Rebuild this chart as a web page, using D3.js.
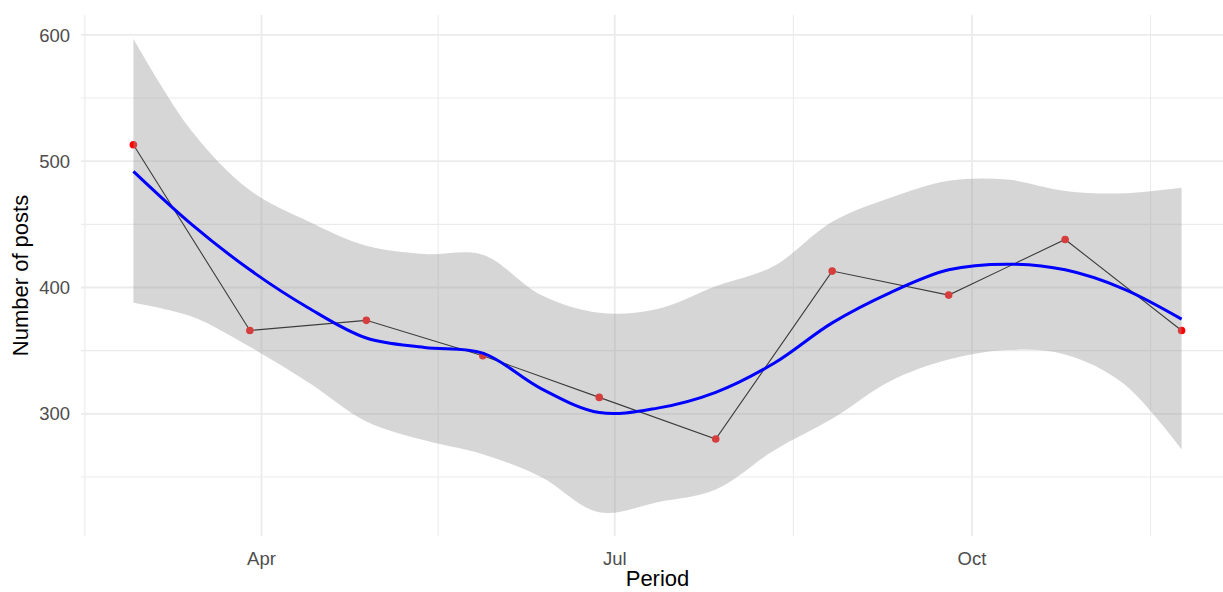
<!DOCTYPE html>
<html>
<head>
<meta charset="utf-8">
<script src="https://cdn.jsdelivr.net/npm/d3@7"></script>
<style>
  html, body { margin: 0; padding: 0; background: #fff; overflow: hidden; }
  svg { display: block; }
  text { font-family: "Liberation Sans", Arial, sans-serif; }
</style>
</head>
<body>
<div id="chart"></div>
<script>
// Observed counts
const pointDates = ['2020-02-28', '2020-03-29', '2020-04-28', '2020-05-28', '2020-06-27',
  '2020-07-27', '2020-08-26', '2020-09-25', '2020-10-25', '2020-11-24']
const pointValues = [513, 366, 374, 346, 313, 280, 413, 394, 438, 366]

// Loess smooth, with its confidence band
const smoothDates = ['2020-02-28', '2020-03-14', '2020-03-29', '2020-04-13', '2020-04-28',
  '2020-05-13', '2020-05-28', '2020-06-12', '2020-06-27', '2020-07-12', '2020-07-27',
  '2020-08-11', '2020-08-26', '2020-09-10', '2020-09-25', '2020-10-10', '2020-10-25',
  '2020-11-09', '2020-11-24']
const smoothFit = [492, 450, 414, 384, 360, 352.5, 348, 320, 301, 304.5, 317,
  340, 372, 396, 414, 418.5, 414, 399, 375]
const smoothUpper = [597, 524, 477, 452.5, 433, 426.5, 426, 394, 380, 383, 401,
  417, 452, 471, 484.5, 485.5, 476.5, 474.6, 479]
const smoothLower = [388, 377, 353, 325, 294, 279, 268, 250, 222, 230, 240,
  271, 296, 326, 343, 350.5, 347, 324, 272]

// Axis ticks
const xTickDates = ['2020-04-01', '2020-07-01', '2020-10-01']
const xTickLabels = ['Apr', 'Jul', 'Oct']
const xMinorDates = ['2020-02-15T12:00', '2020-05-16T12:00', '2020-08-16', '2020-11-16']
const yTicks = [300, 400, 500, 600]
const yMinorTicks = [250, 350, 450, 550]

const parseDate = (s) => new Date(s.length > 10 ? s + 'Z' : s + 'T00:00Z')

const points = pointDates.map((d, i) => ({ date: parseDate(d), value: pointValues[i] }))
const smooth = smoothDates.map((d, i) => ({
  date: parseDate(d), fit: smoothFit[i], upper: smoothUpper[i], lower: smoothLower[i]
}))

const width = 1223
const height = 592
const margin = { top: 15, left: 81, bottom: 56 }
const innerWidth = 1153
const innerHeight = height - margin.top - margin.bottom

const svg = d3.select('#chart')
  .append('svg')
  .attr('width', width)
  .attr('height', height)

// Scales in page coordinates, with ggplot's 5% expansion
const xExtent = d3.extent(points, d => d.date)
const xPad = (xExtent[1] - xExtent[0]) * 0.05
const x = d3.scaleUtc()
  .domain([new Date(+xExtent[0] - xPad), new Date(+xExtent[1] + xPad)])
  .range([margin.left, margin.left + innerWidth])

const yMin = d3.min(smoothLower)
const yMax = d3.max(smoothUpper)
const yPad = (yMax - yMin) * 0.05
const y = d3.scaleLinear()
  .domain([yMin - yPad, yMax + yPad])
  .range([margin.top + innerHeight, margin.top])

// Gridlines
const grid = svg.append('g').attr('class', 'grid')

grid.selectAll('.y-minor')
  .data(yMinorTicks)
  .enter().append('line')
  .attr('x1', margin.left).attr('x2', width)
  .attr('y1', d => y(d)).attr('y2', d => y(d))
  .attr('stroke', '#ebebeb').attr('stroke-width', 1.1)

grid.selectAll('.x-minor')
  .data(xMinorDates)
  .enter().append('line')
  .attr('x1', d => x(parseDate(d))).attr('x2', d => x(parseDate(d)))
  .attr('y1', margin.top).attr('y2', margin.top + innerHeight)
  .attr('stroke', '#ebebeb').attr('stroke-width', 1.1)

grid.selectAll('.y-major')
  .data(yTicks)
  .enter().append('line')
  .attr('x1', margin.left).attr('x2', width)
  .attr('y1', d => y(d)).attr('y2', d => y(d))
  .attr('stroke', '#ebebeb').attr('stroke-width', 1.8)

grid.selectAll('.x-major')
  .data(xTickDates)
  .enter().append('line')
  .attr('x1', d => x(parseDate(d))).attr('x2', d => x(parseDate(d)))
  .attr('y1', margin.top).attr('y2', margin.top + innerHeight)
  .attr('stroke', '#ebebeb').attr('stroke-width', 1.8)

// Tick labels
svg.selectAll('.y-label')
  .data(yTicks)
  .enter().append('text')
  .attr('x', margin.left - 11)
  .attr('y', d => y(d))
  .attr('dy', '0.36em')
  .attr('text-anchor', 'end')
  .attr('fill', '#4d4d4d')
  .attr('font-size', 18.5)
  .text(d => d)

svg.selectAll('.x-label')
  .data(xTickDates)
  .enter().append('text')
  .attr('x', d => x(parseDate(d)))
  .attr('y', 565)
  .attr('text-anchor', 'middle')
  .attr('fill', '#4d4d4d')
  .attr('font-size', 18.5)
  .text((d, i) => xTickLabels[i])

// Axis titles
svg.append('text')
  .attr('x', margin.left + innerWidth / 2)
  .attr('y', 586)
  .attr('text-anchor', 'middle')
  .attr('fill', '#000')
  .attr('font-size', 22)
  .text('Period')

svg.append('text')
  .attr('transform', `translate(28, ${margin.top + innerHeight / 2}) rotate(-90)`)
  .attr('text-anchor', 'middle')
  .attr('fill', '#000')
  .attr('font-size', 22)
  .text('Number of posts')

// Observed line and points
const line = d3.line()
  .x(d => x(d.date))
  .y(d => y(d.value))

svg.append('path')
  .datum(points)
  .attr('fill', 'none')
  .attr('stroke', '#000')
  .attr('stroke-width', 1.1)
  .attr('d', line)

svg.selectAll('.dot')
  .data(points)
  .enter().append('circle')
  .attr('cx', d => x(d.date))
  .attr('cy', d => y(d.value))
  .attr('r', 3.8)
  .attr('fill', '#ff0000')

// Confidence band (drawn over the points, like geom_smooth)
const band = d3.area()
  .x(d => x(d.date))
  .y0(d => y(d.lower))
  .y1(d => y(d.upper))
  .curve(d3.curveCatmullRom)

svg.append('path')
  .datum(smooth)
  .attr('fill', '#999999')
  .attr('fill-opacity', 0.4)
  .attr('d', band)

// Smooth line
const fitLine = d3.line()
  .x(d => x(d.date))
  .y(d => y(d.fit))
  .curve(d3.curveCatmullRom)

svg.append('path')
  .datum(smooth)
  .attr('fill', 'none')
  .attr('stroke', '#0000ff')
  .attr('stroke-width', 3)
  .attr('d', fitLine)
</script>
</body>
</html>
